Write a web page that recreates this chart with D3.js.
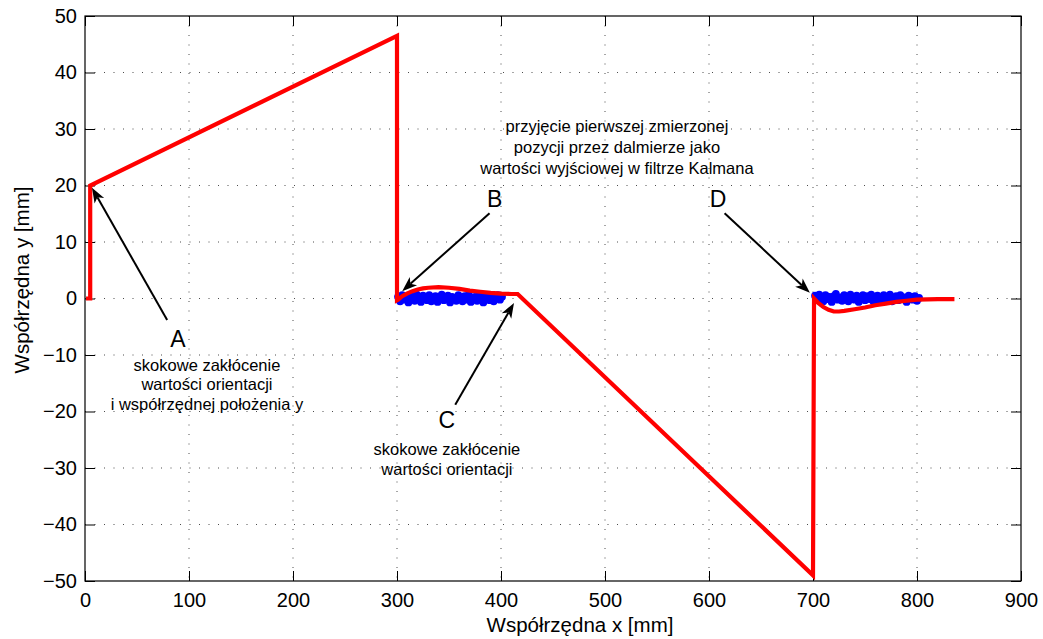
<!DOCTYPE html>
<html>
<head>
<meta charset="utf-8">
<script src="https://cdn.jsdelivr.net/npm/d3@7"></script>
<style>
  body { margin: 0; background: #fff; }
  svg { display: block; font-family: "Liberation Sans", Arial, sans-serif; }
  .grid line { stroke: #000; stroke-opacity: 0.7; stroke-dasharray: 1, 8.5; }
  .axis path, .axis line { stroke: #000; }
</style>
</head>
<body>
<div id="chart"></div>
<script>
// trajektoria filtru (czerwona)
var redX = [1, 5, 5, 300, 300, 301, 305, 310, 315, 320, 325, 330, 340, 350, 360, 370, 380, 390, 400, 410, 416,
            700, 701, 705, 710, 715, 720, 725, 730, 740, 750, 760, 770, 780, 790, 800, 810, 820, 836];
var redY = [0, 0, 20, 46.5, -0.3, -0.2, 0.4, 0.9, 1.3, 1.6, 1.8, 1.9, 2.0, 1.9, 1.7, 1.4, 1.2, 1.0, 0.85, 0.8, 0.8,
            -49, 0, -0.8, -1.5, -2.0, -2.3, -2.3, -2.2, -1.9, -1.6, -1.2, -0.9, -0.6, -0.4, -0.2, -0.15, -0.1, -0.1];

// pomiary dalmierzy (niebieskie), co 2 mm
var blue1Start = 301, blue2Start = 702, blueStep = 2;
var blue1Y = [0.3, -0.5, 0.6, -0.2, 0.1, -0.7, 0.4, 0.2, -0.4, 0.7, -0.1, -0.6, 0.5, 0.0, -0.3, 0.6, -0.5,
              0.2, 0.4, -0.6, 0.1, 0.7, -0.3, -0.1, 0.5, -0.7, 0.3, 0.0, -0.4, 0.6, 0.2, -0.5, 0.4, -0.2,
              0.7, -0.6, 0.1, 0.3, -0.4, 0.5, -0.1, -0.7, 0.6, 0.2, -0.3, 0.4, -0.5, 0.1, 0.6, -0.2, 0.3];
var blue2Y = [0.5, -0.3, 0.7, 0.1, -0.5, 0.6, -0.1, 0.3, -0.6, 0.4, 0.8, -0.2, 0.2, -0.4, 0.6, 0.0, -0.5,
              0.7, 0.3, -0.2, 0.5, -0.6, 0.1, 0.6, -0.3, 0.4, -0.1, 0.7, -0.5, 0.2, 0.5, -0.4, 0.0, 0.6,
              -0.2, 0.3, 0.7, -0.5, 0.1, 0.4, -0.3, 0.6, -0.1, 0.2, -0.6, 0.5, 0.3, -0.2, 0.4, -0.4, 0.1];

var xTicks = [0, 100, 200, 300, 400, 500, 600, 700, 800, 900];
var yTicks = [-50, -40, -30, -20, -10, 0, 10, 20, 30, 40, 50];

// strzałki: [x ogona, y ogona, x grotu, y grotu] w mm
var arrows = [
  [79, -3.8, 6.7, 19.6],
  [389, 15.1, 305, 1.3],
  [356, -18.8, 412.5, -0.8],
  [615, 15.1, 697, 1.0]
];
var letters = [["A", 89.4, -8.6], ["B", 394, 16.2], ["C", 348, -22.9], ["D", 608.7, 16.2]];
var notes = [
  { x: 117.3, y: -12.8, dy: 19.5, lines: ["skokowe zakłócenie", "wartości orientacji", "i współrzędnej położenia y"] },
  { x: 511.5, y: 29.5, dy: 21, lines: ["przyjęcie pierwszej zmierzonej", "pozycji przez dalmierze jako", "wartości wyjściowej w filtrze Kalmana"] },
  { x: 348, y: -27.7, dy: 20, lines: ["skokowe zakłócenie", "wartości orientacji"] }
];

var W = 1043, H = 639;
var margin = { left: 85, top: 16, right: 22, bottom: 58 };
var w = W - margin.left - margin.right, h = H - margin.top - margin.bottom;

var svg = d3.select("#chart").append("svg").attr("width", W).attr("height", H);
var g = svg.append("g").attr("transform", "translate(" + margin.left + "," + margin.top + ")");

var x = d3.scaleLinear().domain([0, 900]).range([0, w]);
var y = d3.scaleLinear().domain([-50, 50]).range([h, 0]);

// siatka
var grid = g.append("g").attr("class", "grid");
grid.selectAll(".gx").data(xTicks.slice(1, -1)).enter().append("line")
  .attr("x1", function (d) { return x(d); }).attr("x2", function (d) { return x(d); })
  .attr("y1", 0).attr("y2", h);
grid.selectAll(".gy").data(yTicks.slice(1, -1)).enter().append("line")
  .attr("y1", function (d) { return y(d); }).attr("y2", function (d) { return y(d); })
  .attr("x1", 0).attr("x2", w);

// osie z kreskami do wewnątrz
var fmt = function (d) { return d < 0 ? "\u2212" + Math.abs(d) : d; };
g.append("g").attr("class", "axis").attr("transform", "translate(0," + h + ")")
  .call(d3.axisBottom(x).tickValues(xTicks).tickFormat(fmt).tickSizeInner(-10).tickSizeOuter(0).tickPadding(12));
g.append("g").attr("class", "axis")
  .call(d3.axisLeft(y).tickValues(yTicks).tickFormat(fmt).tickSizeInner(-10).tickSizeOuter(0).tickPadding(8));
g.append("g").attr("class", "axis")
  .call(d3.axisTop(x).tickValues(xTicks).tickFormat("").tickSizeInner(-10).tickSizeOuter(0));
g.append("g").attr("class", "axis").attr("transform", "translate(" + w + ",0)")
  .call(d3.axisRight(y).tickValues(yTicks).tickFormat("").tickSizeInner(-10).tickSizeOuter(0));
g.selectAll(".axis text").style("font-size", "20px").style("font-family", "'Liberation Sans', Arial, sans-serif").attr("fill", "#000");
g.selectAll(".axis .domain").remove();
g.append("rect").attr("width", w).attr("height", h).attr("fill", "none").attr("stroke", "#000").attr("stroke-width", 1.2);

// pomiary
var dots = g.append("g").attr("fill", "#0000ff");
[[blue1Start, blue1Y], [blue2Start, blue2Y]].forEach(function (s) {
  dots.selectAll(null).data(s[1]).enter().append("circle")
    .attr("cx", function (d, i) { return x(s[0] + i * blueStep); })
    .attr("cy", function (d) { return y(d); })
    .attr("r", 3.9);
});

// linia
var line = d3.line().x(function (d) { return x(d[0]); }).y(function (d) { return y(d[1]); });
g.append("path").datum(d3.zip(redX, redY)).attr("d", line)
  .attr("fill", "none").attr("stroke", "#ff0000").attr("stroke-width", 4.2).attr("stroke-linejoin", "miter");

// strzałki
arrows.forEach(function (a) {
  var x0 = x(a[0]), y0 = y(a[1]), x1 = x(a[2]), y1 = y(a[3]);
  var ang = Math.atan2(y1 - y0, x1 - x0), L = 15, hw = 5.5, nb = 11;
  var ux = Math.cos(ang), uy = Math.sin(ang), px = -uy, py = ux;
  g.append("line").attr("x1", x0).attr("y1", y0)
    .attr("x2", x1 - ux * nb).attr("y2", y1 - uy * nb)
    .attr("stroke", "#000").attr("stroke-width", 2);
  var pts = [[x1, y1], [x1 - ux * L + px * hw, y1 - uy * L + py * hw],
             [x1 - ux * nb, y1 - uy * nb], [x1 - ux * L - px * hw, y1 - uy * L - py * hw]];
  g.append("path").attr("d", "M" + pts.join("L") + "Z").attr("fill", "#000");
});

g.selectAll(".letter").data(letters).enter().append("text")
  .attr("x", function (d) { return x(d[1]); }).attr("y", function (d) { return y(d[2]); })
  .attr("text-anchor", "middle").style("font-size", "23px").text(function (d) { return d[0]; });

notes.forEach(function (n) {
  var t = g.append("text").attr("text-anchor", "middle").style("font-size", "16.5px");
  n.lines.forEach(function (s, i) {
    t.append("tspan").attr("x", x(n.x)).attr("y", y(n.y) + i * n.dy).text(s);
  });
});

// opisy osi
svg.append("text").attr("x", 580).attr("y", 632).attr("text-anchor", "middle")
  .style("font-size", "20.5px").text("Współrzędna x [mm]");
svg.append("text").attr("transform", "translate(29,280) rotate(-90)").attr("text-anchor", "middle")
  .style("font-size", "20.5px").text("Współrzędna y [mm]");
</script>
</body>
</html>
